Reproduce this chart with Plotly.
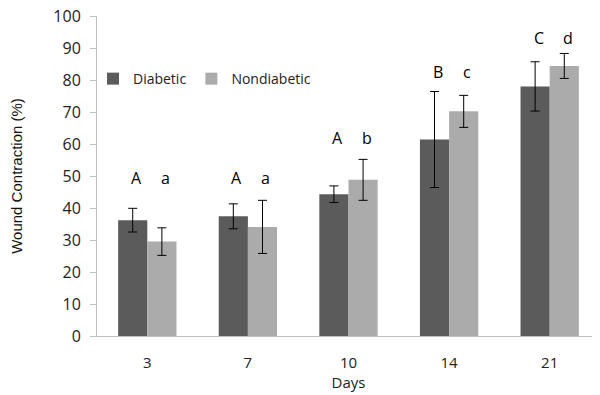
import plotly.graph_objects as go

days = ["3", "7", "10", "14", "21"]
diabetic = [36.2, 37.4, 44.3, 61.4, 78.0]
diabetic_err = [3.7, 3.9, 2.6, 15.0, 7.7]
nondiabetic = [29.5, 34.1, 48.8, 70.2, 84.4]
nondiabetic_err = [4.3, 8.3, 6.4, 5.0, 3.9]
diabetic_letters = ["A", "A", "A", "B", "C"]
nondiabetic_letters = ["a", "a", "b", "c", "d"]
letter_y = [49.5, 49.5, 62, 82.5, 93]

FONT = "Open Sans"
fig = go.Figure()
fig.add_trace(go.Bar(
    name="Diabetic", x=days, y=diabetic,
    marker=dict(color="#5b5b5b", line=dict(width=0)),
    error_y=dict(type="data", array=diabetic_err, color="black", thickness=1, width=4.5),
))
fig.add_trace(go.Bar(
    name="Nondiabetic", x=days, y=nondiabetic,
    marker=dict(color="#ababab", line=dict(width=0)),
    error_y=dict(type="data", array=nondiabetic_err, color="black", thickness=1, width=4.5),
))

for i, (ld, ln, ly) in enumerate(zip(diabetic_letters, nondiabetic_letters, letter_y)):
    fig.add_annotation(x=i, y=ly, text=ld, showarrow=False, xshift=-11,
                       font=dict(family=FONT, size=16, color="black"))
    fig.add_annotation(x=i, y=ly, text=ln, showarrow=False, xshift=18,
                       font=dict(family=FONT, size=16, color="black"))

# page body has an 8px margin, so the figure is drawn at (8, 8)
fig.update_layout(
    width=592, height=387,
    margin=dict(l=89, r=0, t=8, b=59),
    paper_bgcolor="white", plot_bgcolor="white",
    barmode="group", bargap=0.42, bargroupgap=0,
    font=dict(family=FONT, size=15, color="#222"),
    showlegend=True,
    legend=dict(orientation="h", x=-0.008, y=0.803, xanchor="left", yanchor="middle",
                font=dict(family=FONT, size=14, color="#222"),
                itemwidth=30, bgcolor="rgba(0,0,0,0)"),
    xaxis=dict(
        type="category", range=[-0.5, 4.5],
        title=dict(text="Days", font=dict(family=FONT, size=15, color="#222"), standoff=2),
        showline=True, linecolor="#bfbfbf", linewidth=1,
        ticks="", ticklabelstandoff=13, showgrid=False, automargin=False,
        tickfont=dict(family=FONT, size=15, color="#222"),
    ),
    yaxis=dict(
        title=dict(text="Wound Contraction (%)", font=dict(family="Liberation Sans", size=15, color="#111"), standoff=32),
        range=[0, 100], dtick=10,
        showline=True, linecolor="#bfbfbf", linewidth=1,
        ticks="outside", ticklen=6, tickcolor="#bfbfbf",
        ticklabelstandoff=6, automargin=False, ticklabeloverflow="allow",
        showgrid=False, zeroline=False,
        tickfont=dict(family=FONT, size=16, color="#222"),
    ),
)

fig.write_html("out.html")
